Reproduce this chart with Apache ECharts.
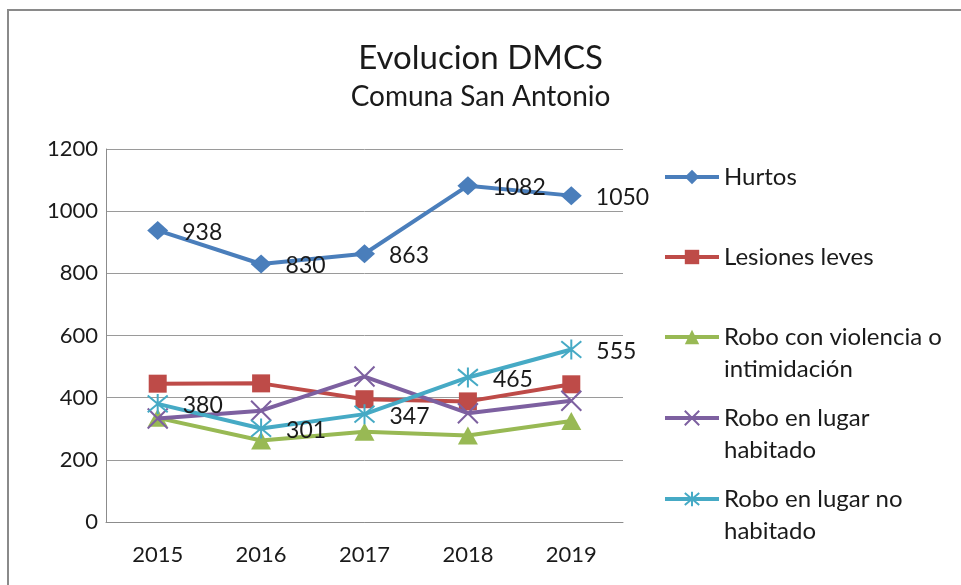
<!DOCTYPE html>
<html>
<head>
<meta charset="utf-8">
<script src="https://cdn.jsdelivr.net/npm/echarts@6/dist/echarts.min.js"></script>
<style>
  html, body { margin: 0; padding: 0; background: #fff; }
  #chart { width: 961px; height: 585px; }
</style>
</head>
<body>
<div id="chart"></div>
<script>
var categories = ['2015', '2016', '2017', '2018', '2019'];
var seriesNames = ['Hurtos', 'Lesiones leves', 'Robo con violencia o intimidación', 'Robo en lugar habitado', 'Robo en lugar no habitado'];
var legendLabels = ['Hurtos', 'Lesiones leves', 'Robo con violencia o\nintimidación', 'Robo en lugar\nhabitado', 'Robo en lugar no\nhabitado'];
var hurtos = [938, 830, 863, 1082, 1050];
var lesionesLeves = [445, 446, 395, 388, 443];
var roboViolencia = [335, 262, 290, 278, 325];
var roboHabitado = [333, 358, 468, 350, 390];
var roboNoHabitado = [380, 301, 347, 465, 555];
var yTicks = [0, 200, 400, 600, 800, 1000, 1200];

var FONT = 'Lato';
var colors = ['#4A7EBB', '#BE4B48', '#98B954', '#7D60A0', '#46AAC5'];
var symbols = [
  'diamond',
  'rect',
  'triangle',
  'path://M0,0L10,10M10,0L0,10',
  'path://M0,0L10,10M10,0L0,10M5,-1L5,11'
];
var sizes = [[21, 19], 18, [20, 18], 20, 20];
var dataSets = [hurtos, lesionesLeves, roboViolencia, roboHabitado, roboNoHabitado];
var showLabels = [true, false, false, false, true];

var series = dataSets.map(function (d, i) {
  var stroked = i >= 3;
  return {
    name: seriesNames[i],
    type: 'line',
    data: d,
    symbol: symbols[i],
    symbolSize: sizes[i],
    showAllSymbol: true,
    lineStyle: { color: colors[i], width: 4 },
    itemStyle: {
      color: stroked ? 'rgba(0,0,0,0)' : colors[i],
      borderColor: colors[i],
      borderWidth: stroked ? 2 : 0
    },
    label: {
      show: showLabels[i],
      position: 'right',
      distance: 14,
      offset: [0, 2],
      fontFamily: FONT,
      fontSize: 23,
      color: '#1a1a1a'
    },
    emphasis: { disabled: true },
    z: 2 + i
  };
});

// y-centre of each legend icon (first text line)
var legendCentres = [177, 257, 337, 418, 499];
var LH = 32;
var legends = seriesNames.map(function (n, i) {
  var multi = legendLabels[i].indexOf('\n') >= 0;
  var txt = multi ? '\n' + legendLabels[i] : legendLabels[i];
  var half = multi ? LH * 1.5 : LH / 2;
  return {
    data: [n],
    left: 663,
    top: legendCentres[i] - half,
    orient: 'vertical',
    padding: 0,
    itemWidth: 54,
    itemHeight: 18,
    selectedMode: false,
    formatter: function () { return txt; },
    lineStyle: { width: 4 },
    textStyle: {
      fontFamily: FONT,
      fontSize: 24,
      color: '#1a1a1a',
      lineHeight: LH
    }
  };
});

var chart = echarts.init(document.getElementById('chart'), null, { renderer: 'canvas' });
chart.setOption({
  backgroundColor: '#ffffff',
  animation: false,
  color: colors,
  title: {
    text: 'Evolucion DMCS',
    subtext: 'Comuna San Antonio',
    left: 'center',
    top: 37,
    itemGap: 8,
    textStyle: { fontFamily: FONT, fontSize: 33, fontWeight: 'normal', color: '#1a1a1a' },
    subtextStyle: { fontFamily: FONT, fontSize: 28, color: '#1a1a1a' }
  },
  grid: { left: 106, right: 338, top: 149, bottom: 63, containLabel: false },
  xAxis: {
    type: 'category',
    data: categories,
    boundaryGap: true,
    axisLine: { show: true, lineStyle: { color: '#8c8c8c', width: 1 } },
    axisTick: { show: false },
    axisLabel: { fontFamily: FONT, fontSize: 22, color: '#1a1a1a', margin: 22 },
    splitLine: { show: false }
  },
  yAxis: {
    type: 'value',
    min: yTicks[0],
    max: yTicks[yTicks.length - 1],
    interval: 200,
    axisLine: { show: true, lineStyle: { color: '#8c8c8c', width: 1 } },
    axisTick: { show: false },
    axisLabel: {
      fontFamily: FONT, fontSize: 22, color: '#1a1a1a', margin: 8,
      formatter: function (v) { return String(v); }
    },
    splitLine: { show: true, lineStyle: { color: '#9a9a9a', width: 1 } }
  },
  legend: legends,
  series: series,
  graphic: [
    {
      type: 'rect',
      shape: { x: 8, y: 10, width: 1200, height: 800 },
      style: { fill: 'none', stroke: '#8a8a8a', lineWidth: 2 },
      silent: true,
      z: -1
    }
  ]
});
</script>
</body>
</html>
